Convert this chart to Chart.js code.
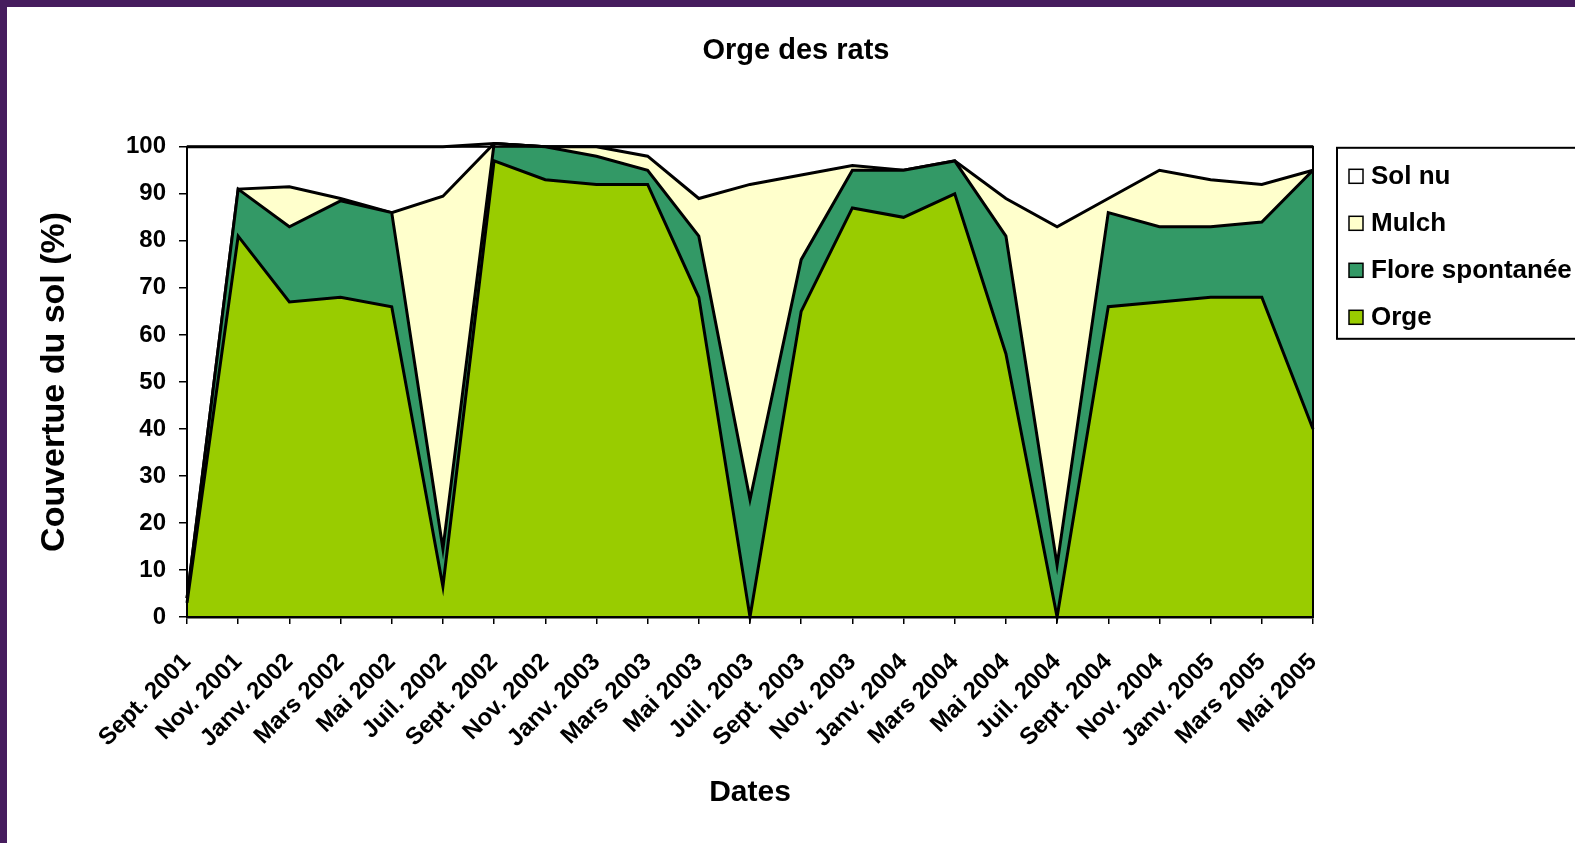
<!DOCTYPE html>
<html>
<head>
<meta charset="utf-8">
<title>Orge des rats</title>
<script src="https://cdn.jsdelivr.net/npm/chart.js@4.4.1/dist/chart.umd.min.js"></script>
<style>
    body { margin: 0; background: #fff; overflow: hidden; }
    #frame {
        position: absolute; left: 0; top: 0;
        width: 1568px; height: 836px;
        border-left: 7px solid #461c5e;
        border-top: 7px solid #461c5e;
        background: #fff;
    }
</style>
</head>
<body>
<div id="frame"><canvas id="chart1" width="1568" height="836"></canvas></div>
<script>
(function() {
    "use strict";

    var labels = ['Sept. 2001', 'Nov. 2001', 'Janv. 2002', 'Mars 2002', 'Mai 2002', 'Juil. 2002',
        'Sept. 2002', 'Nov. 2002', 'Janv. 2003', 'Mars 2003', 'Mai 2003', 'Juil. 2003',
        'Sept. 2003', 'Nov. 2003', 'Janv. 2004', 'Mars 2004', 'Mai 2004', 'Juil. 2004',
        'Sept. 2004', 'Nov. 2004', 'Janv. 2005', 'Mars 2005', 'Mai 2005'];

    var orge   = [3, 81, 67, 68, 66, 6.5, 97, 93, 92, 92, 68, 0, 65, 87, 85, 90, 56, 0, 66, 67, 68, 68, 40];
    var flore  = [1, 10, 16, 20.5, 20, 8, 3.7, 7, 6, 3, 13, 25, 11, 8, 10, 7, 25, 11, 20, 16, 15, 16, 55];
    var mulch  = [0, 0, 8.5, 0.5, 0, 75, 0, 0, 2, 3, 8, 67, 18, 1, 0, 0, 8, 72, 3, 12, 10, 8, 0];
    var solNu  = [96, 9, 8.5, 11, 14, 10.5, 0, 0, 0, 2, 11, 8, 6, 4, 5, 3, 11, 17, 11, 5, 7, 8, 5];

    var yTicks = [0, 10, 20, 30, 40, 50, 60, 70, 80, 90, 100];

    var FONT = '"Liberation Sans", Arial, sans-serif';

    function area(label, data, color, fill) {
        return {
            label: label,
            data: data,
            backgroundColor: color,
            borderColor: '#000',
            borderWidth: 3,
            pointRadius: 0,
            pointHoverRadius: 0,
            tension: 0,
            fill: fill,
            clip: 6
        };
    }

    // plot frame (top + right edges) drawn over the areas
    var plotFrame = {
        id: 'plotFrame',
        afterDatasetsDraw: function(chart) {
            var a = chart.chartArea, ctx = chart.ctx;
            ctx.save();
            ctx.strokeStyle = '#000';
            ctx.lineWidth = 2;
            ctx.strokeRect(a.left, a.top, a.right - a.left, a.bottom - a.top);
            ctx.restore();
        }
    };

    // boxed legend on the right, reversed order like the original
    var boxLegend = {
        id: 'boxLegend',
        afterDraw: function(chart) {
            var a = chart.chartArea, ctx = chart.ctx;
            var left = a.right + 24, top = a.top + 1;
            var sets = chart.data.datasets.slice().reverse();
            ctx.save();
            ctx.fillStyle = '#fff';
            ctx.fillRect(left, top, 300, 191);
            ctx.strokeStyle = '#000';
            ctx.lineWidth = 2;
            ctx.strokeRect(left, top, 300, 191);
            ctx.font = 'bold 26px ' + FONT;
            ctx.textBaseline = 'middle';
            for (var i = 0; i < sets.length; i++) {
                var cy = top + 28.5 + i * 47;
                ctx.fillStyle = sets[i].backgroundColor;
                ctx.fillRect(left + 12, cy - 7, 14, 14);
                ctx.lineWidth = 1.5;
                ctx.strokeRect(left + 12, cy - 7, 14, 14);
                ctx.fillStyle = '#000';
                ctx.fillText(sets[i].label, left + 34, cy + 1);
            }
            ctx.restore();
        }
    };

    var ctx = document.getElementById('chart1').getContext('2d');

    var myChart = new Chart(ctx, {
        type: 'line',
        data: {
            labels: labels,
            datasets: [
                area('Orge', orge, '#99cc00', 'origin'),
                area('Flore spontanée', flore, '#339966', '-1'),
                area('Mulch', mulch, '#ffffcc', '-1'),
                area('Sol nu', solNu, '#ffffff', '-1')
            ]
        },
        options: {
            responsive: false,
            animation: false,
            events: [],
            layout: {
                padding: { top: 20, left: 20, right: 10, bottom: 20 }
            },
            plugins: {
                legend: { display: false },
                tooltip: { enabled: false },
                title: {
                    display: true,
                    text: 'Orge des rats',
                    color: '#000',
                    font: { family: FONT, size: 29, weight: 'bold' },
                    padding: { top: 7, bottom: 78 }
                }
            },
            scales: {
                x: {
                    type: 'category',
                    offset: false,
                    grid: {
                        display: true,
                        drawOnChartArea: false,
                        drawTicks: true,
                        tickLength: 7,
                        color: '#000',
                        lineWidth: 1.5,
                        offset: false
                    },
                    border: { display: true, color: '#000', width: 2.5 },
                    ticks: {
                        autoSkip: false,
                        maxRotation: 45,
                        minRotation: 45,
                        color: '#000',
                        padding: 24,
                        font: { family: FONT, size: 24, weight: 'bold' }
                    },
                    title: {
                        display: true,
                        text: 'Dates',
                        color: '#000',
                        font: { family: FONT, size: 30, weight: 'bold' },
                        padding: { top: 0, bottom: 12 }
                    },
                    afterFit: function(scale) { scale.height = 206; }
                },
                y: {
                    stacked: true,
                    min: 0,
                    max: 100,
                    afterBuildTicks: function(scale) {
                        scale.ticks = yTicks.map(function(v) { return { value: v }; });
                    },
                    grid: {
                        display: true,
                        drawOnChartArea: false,
                        drawTicks: true,
                        tickLength: 8,
                        color: '#000',
                        lineWidth: 1.5
                    },
                    border: { display: true, color: '#000', width: 2.5 },
                    ticks: {
                        color: '#000',
                        padding: 13,
                        font: { family: FONT, size: 24, weight: 'bold' }
                    },
                    title: {
                        display: true,
                        text: 'Couvertue du sol (%)',
                        color: '#000',
                        font: { family: FONT, size: 34, weight: 'bold' },
                        padding: { top: 7, bottom: 0 }
                    },
                    afterFit: function(scale) { scale.width = 160; }
                },
                ySpace: {
                    type: 'linear',
                    position: 'right',
                    display: true,
                    grid: { display: false },
                    border: { display: false },
                    ticks: { display: false },
                    afterFit: function(scale) { scale.width = 252; }
                }
            }
        },
        plugins: [plotFrame, boxLegend]
    });
})();
</script>
</body>
</html>
